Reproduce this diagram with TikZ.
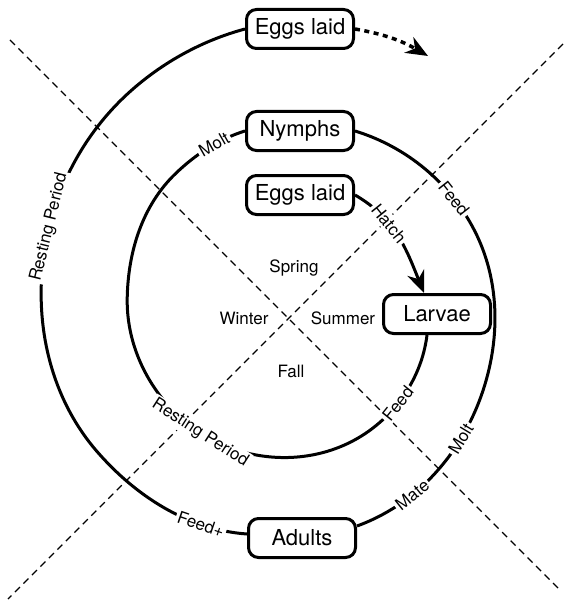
\documentclass[tikz,border=0pt]{standalone}
\usepackage{fontspec}
\setmainfont{TeX Gyre Heros}
\usetikzlibrary{arrows.meta,positioning,calc}

\begin{document}
\begin{tikzpicture}[x=1pt,y=1pt,
  stage/.style={draw=black,fill=white,line width=3pt,rounded corners=10pt,
    minimum width=107pt,minimum height=39pt,inner sep=2pt,font=\fontsize{22}{22}\selectfont},
  lbl/.style={sloped,fill=white,inner sep=2pt,font=\fontsize{17}{17}\selectfont},
  season/.style={font=\fontsize{17}{17}\selectfont},
  quad/.style={line width=1.3pt,dash pattern=on 7pt off 5pt},
  cyc/.style={line width=3pt,looseness=0.885},
  head/.style={-{Stealth[length=22pt,width=18pt,inset=7pt]}}
]
\useasboundingbox (0,0) rectangle (566,-607);

% quarters of the year
\draw[quad] (10,-40) -- (560,-590);
\draw[quad] (563,-44) -- (8,-599);
\coordinate (C) at (288,-318);

\node[season] (spring) at (294,-268) {Spring};
\node[season] (winter) at (244,-318) {Winter};
\node[season] (summer) at (343,-318) {Summer};
\node[season] (fall)   at (291,-371) {Fall};

% stages
\node[stage] (eggsTop) at (300,-29)  {Eggs laid};
\node[stage] (nymphs)  at (300,-131) {Nymphs};
\node[stage] (eggsIn)  at (300,-195) {Eggs laid};
\node[stage] (larvae)  at (437,-314) {Larvae};
\node[stage] (adults)  at (302,-538) {Adults};

% points on the spiral, (angle:radius) round C
\coordinate (a1) at ($(C)+(-52:139)$);
\coordinate (a2) at ($(C)+(-97:140)$);
\coordinate (a3) at ($(C)+(-142:148)$);
\coordinate (a4) at ($(C)+(173:162)$);
\coordinate (a5) at ($(C)+(128:183)$);
\coordinate (b1) at ($(C)+(25:206)$);
\coordinate (b2) at ($(C)+(-20:208)$);
\coordinate (c1) at ($(C)+(-145:233)$);
\coordinate (c2) at ($(C)+(170:250)$);
\coordinate (c3) at ($(C)+(125:276)$);
\coordinate (next) at (428,-56);

% first year
\draw[cyc,looseness=1,head] (eggsIn.east) to[out=-30,in=112] node[lbl,pos=0.36] {Hatch} ([xshift=-13pt]larvae.north);
\draw[cyc] ([xshift=-10pt]larvae.south) to[out=-97,in=38] node[lbl,pos=0.69] {Feed} (a1)
  to[out=-142,in=-5] (a2)
  to[out=175,in=-47] node[lbl,pos=0.67] {Resting Period} (a3)
  to[out=133,in=-91] (a4)
  to[out=89,in=224] (a5)
  to[out=44,in=197,looseness=0.86] node[lbl,pos=0.59] {Molt} (nymphs.west);

% second year
\draw[cyc] (nymphs.east) to[out=-17,in=117] node[lbl,pos=0.76] {Feed} (b1)
  to[out=-63,in=72] (b2)
  to[out=-108,in=20,looseness=0.9] node[lbl,pos=0.28] {Molt} node[lbl,pos=0.67] {Mate} ([yshift=12pt]adults.east);
\draw[cyc] ([yshift=4pt]adults.west) to[out=176,in=-49] node[lbl,pos=0.27] {Feed+} (c1)
  to[out=131,in=-94] (c2)
  to[out=86,in=222] node[lbl,pos=0.23] {Resting Period} (c3)
  to[out=42,in=195,looseness=0.86] (eggsTop.west);
\draw[line width=3.5pt,dash pattern=on 5pt off 4.5pt,head] (eggsTop.east) to[out=-10,in=150] (next);
\end{tikzpicture}
\end{document}
